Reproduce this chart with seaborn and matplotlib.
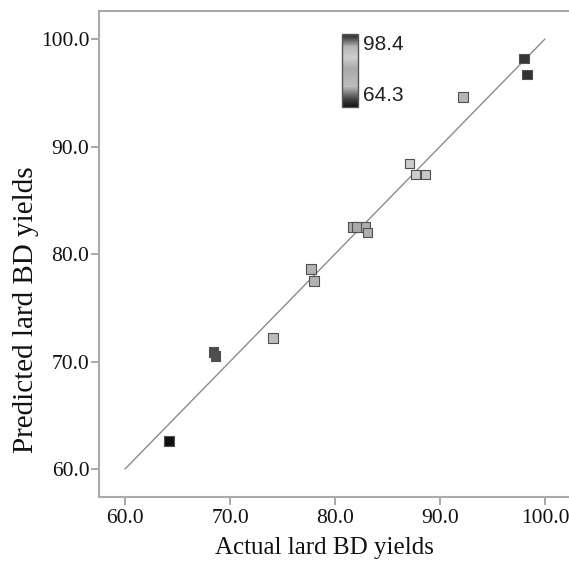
import numpy as np
import pandas as pd
import matplotlib
matplotlib.use("Agg")
import matplotlib.pyplot as plt
import seaborn as sns
from matplotlib.colors import LinearSegmentedColormap, Normalize

actual = [64.2, 68.4, 68.6, 74.1, 77.7, 78.0, 81.7, 82.1, 82.9, 83.1, 87.1, 87.7, 88.6, 92.2, 98.0, 98.3]
predicted = [62.6, 70.9, 70.5, 72.2, 78.6, 77.5, 82.5, 82.5, 82.5, 82.0, 88.4, 87.4, 87.4, 94.6, 98.2, 96.7]
ticks = [60.0, 70.0, 80.0, 90.0, 100.0]
cbar_labels = ["98.4", "64.3"]
vmin, vmax = 64.3, 98.4

df = pd.DataFrame({"Actual": actual, "Predicted": predicted})

sns.set_style("white")
plt.rcParams["font.family"] = ["Liberation Serif", "DejaVu Serif"]

cmap = LinearSegmentedColormap.from_list("gr", [
    (0.0, "#101010"), (0.12, "#4a4a4a"), (0.28, "#bcbcbc"), (0.53, "#a9a9a9"),
    (0.68, "#cdcdcd"), (0.83, "#b4b4b4"), (0.95, "#444444"), (1.0, "#333333")])
norm = Normalize(vmin=vmin, vmax=vmax)

fig = plt.figure(figsize=(5.69, 5.67), dpi=100)
ax = fig.add_axes([0.174, 0.1235, 0.826, 0.857])

ax.plot([60, 100], [60, 100], color="#8c8c8c", lw=1.0, zorder=1)
sns.scatterplot(data=df, x="Actual", y="Predicted", hue="Actual", palette=cmap, hue_norm=norm,
                marker="s", s=45, edgecolor="#505050", linewidth=0.8, legend=False, ax=ax, zorder=3)

ax.set_xlim(57.52, 102.29)
ax.set_ylim(57.40, 102.6)
ax.set_xticks(ticks)
ax.set_yticks(ticks)
ax.set_xticklabels([f"{t:.1f}" for t in ticks])
ax.set_yticklabels([f"{t:.1f}" for t in ticks])
ax.tick_params(axis="both", which="both", direction="out", length=6, width=1.2, color="#999999",
               labelsize=15.5, bottom=True, left=True, labelcolor="#111111")
ax.tick_params(axis="x", pad=3)
ax.tick_params(axis="y", pad=1)
for side in ["left", "bottom", "top"]:
    ax.spines[side].set_color("#aaaaaa")
    ax.spines[side].set_linewidth(1.5)
ax.spines["right"].set_visible(False)
ax.set_xlabel("Actual lard BD yields", fontsize=18, color="#111111")
ax.set_ylabel("Predicted lard BD yields", fontsize=21, color="#111111")
ax.xaxis.set_label_coords(0.479, -0.082)
ax.yaxis.set_label_coords(-0.128, 0.385)

cax = fig.add_axes([0.601, 0.811, 0.028, 0.129])
sm = plt.cm.ScalarMappable(cmap=cmap, norm=norm)
cb = fig.colorbar(sm, cax=cax)
cb.set_ticks([])
cb.outline.set_edgecolor("#555555")
cb.outline.set_linewidth(1.0)
cax.text(1.35, 0.86, cbar_labels[0], transform=cax.transAxes, va="center", ha="left",
         fontsize=15, family="Liberation Sans", color="#222222")
cax.text(1.35, 0.16, cbar_labels[1], transform=cax.transAxes, va="center", ha="left",
         fontsize=15, family="Liberation Sans", color="#222222")

fig.savefig("out.png", dpi=100)
